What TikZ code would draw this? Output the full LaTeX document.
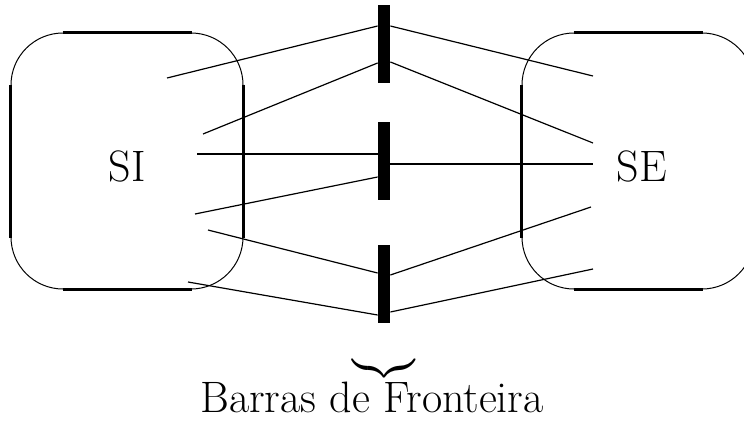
\documentclass[tikz,border=0pt]{standalone}
\usepackage{amsmath}
\usepackage{tikz}
\usetikzlibrary{positioning,calc}

\begin{document}
\begin{tikzpicture}[x=0.5pt,y=-0.5pt,
	sys/.style={
		draw, line width=0.5pt, rounded corners=26pt,
		minimum width=116pt, minimum height=128pt, inner sep=0pt
	},
	edge/.style={line width=1.1pt},
	bar/.style={fill=black, inner sep=0pt, minimum width=6pt, minimum height=39pt},
	link/.style={line width=0.6pt},
	tag/.style={font=\fontsize{22}{26}\selectfont, inner sep=0pt}
	]
	\useasboundingbox (0,0) rectangle (744,423);
	\node[sys] (si) at (127,161) {};
	\node[sys] (se) at (638,161) {};
	% heavier straight sides of the systems
	\foreach \s in {si,se}{
		\draw[edge] ([xshift=26pt]\s.north west) -- ([xshift=-26pt]\s.north east);
		\draw[edge] ([xshift=26pt]\s.south west) -- ([xshift=-26pt]\s.south east);
		\draw[edge] ([yshift=-26pt]\s.north west) -- ([yshift=26pt]\s.south west);
		\draw[edge] ([yshift=-26pt]\s.north east) -- ([yshift=26pt]\s.south east);
	}
	\node[tag] (silab) at (127,166) {SI};
	\node[tag] (selab) at (642,166) {SE};

	\node[bar] (b1) at (384,44) {};
	\node[bar] (b2) at (384,160.5) {};
	\node[bar] (b3) at (384,283.5) {};

	% free ends inside SI and SE
	\foreach \n/\x/\y in {i1/167/78,i2/203/134,i3/197/154,i4/195/214,i5/208/230,i6/188/282,
		e1/593/76,e2/593/143,e3/593/164,e4/591/207,e5/593/269}
	\coordinate (\n) at (\x,\y);

	\foreach \a/\b/\y in {i1/b1/26,i2/b1/63,i3/b2/154,i4/b2/177,i5/b3/273,i6/b3/315}
	\draw[link] (\a) -- (\b.west |- 0,\y);
	\foreach \a/\b/\y in {e1/b1/26,e2/b1/62,e3/b2/164,e4/b3/275,e5/b3/312}
	\draw[link] (\b.east |- 0,\y) -- (\a);

	\node[font=\fontsize{16}{19}\selectfont, inner sep=0pt] (brace) at (384,368) {$\underbrace{\hbox to 24pt{}}$};
	\node[tag, anchor=base] (title) at (372,412) {Barras de Fronteira};
\end{tikzpicture}
\end{document}
